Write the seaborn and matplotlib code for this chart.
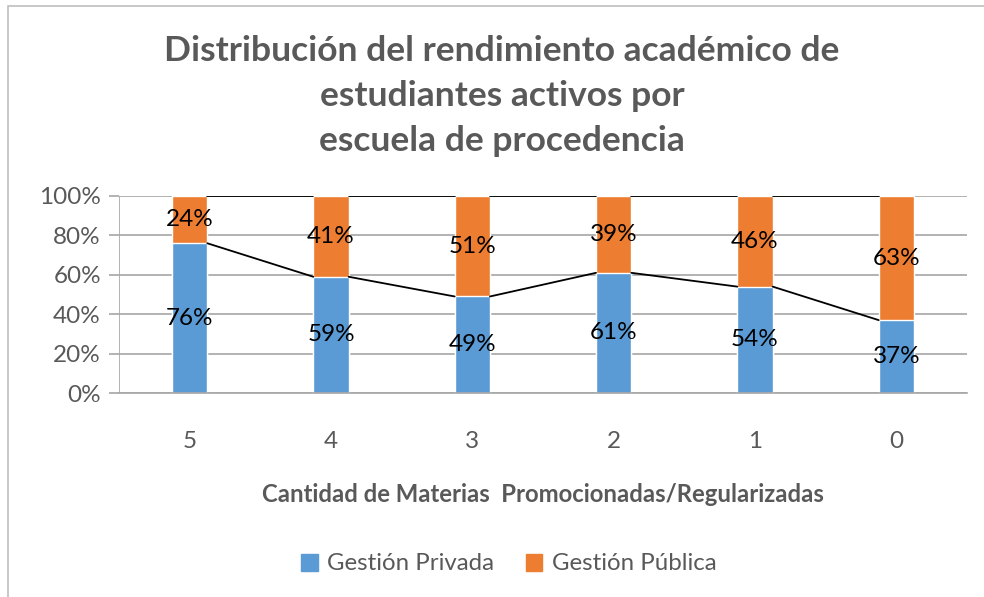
import numpy as np
import seaborn as sns
import matplotlib.pyplot as plt
from matplotlib.patches import Rectangle, Patch

categorias = ["5", "4", "3", "2", "1", "0"]
privada = [76, 59, 49, 61, 54, 37]
publica = [24, 41, 51, 39, 46, 63]

azul = "#5B9BD5"
naranja = "#ED7D31"
gris = "#595959"

sns.set_style("white")
plt.rcParams["font.family"] = ["Lato", "DejaVu Sans"]

fig = plt.figure(figsize=(9.84, 5.97), dpi=100)
ax = fig.add_axes([119 / 984, 1 - 393 / 597, (967 - 119) / 984, (393 - 196) / 597])

total = [a + b for a, b in zip(privada, publica)]
ancho = 0.25
sns.barplot(x=categorias, y=total, color=naranja, width=ancho, ax=ax, saturation=1)
sns.barplot(x=categorias, y=privada, color=azul, width=ancho, ax=ax, saturation=1)

# series lines between bars
for i in range(len(categorias) - 1):
    ax.plot([i + ancho / 2, i + 1 - ancho / 2], [privada[i], privada[i + 1]],
            color="black", lw=1.3, zorder=3)
    ax.plot([i + ancho / 2, i + 1 - ancho / 2], [total[i], total[i + 1]],
            color="black", lw=1.3, zorder=3)

# etiquetas
for i in range(len(categorias)):
    ax.text(i, privada[i] / 2, f"{privada[i]}%", ha="center", va="center",
            fontsize=17.5, color="black", zorder=4)
    ax.text(i, privada[i] + publica[i] / 2, f"{publica[i]}%", ha="center",
            va="center", fontsize=17.5, color="black", zorder=4)

ax.set_xlim(-0.5, len(categorias) - 0.5)
ax.set_ylim(0, 100)
ax.set_yticks(np.arange(0, 101, 20))
ax.set_yticklabels([f"{v}%" for v in range(0, 101, 20)])
ax.yaxis.grid(True, color="#A6A6A6", lw=1.2)
ax.set_axisbelow(True)
for s in ["top", "right", "left"]:
    ax.spines[s].set_visible(False)
ax.spines["bottom"].set_color("#A6A6A6")
ax.spines["bottom"].set_linewidth(1.2)
ax.axvline(-0.5, color="#A6A6A6", lw=1.2, zorder=0)
ax.tick_params(axis="y", labelsize=17.5, labelcolor=gris, length=7, color="#A6A6A6",
               width=1.2, left=True, pad=6)
ax.tick_params(axis="x", labelsize=17.5, labelcolor=gris, length=0, pad=27)
ax.set_xlabel("Cantidad de Materias  Promocionadas/Regularizadas", fontsize=17.2,
              fontweight="bold", color=gris, labelpad=23)
ax.set_ylabel("")

fig.text(0.51, 1 - 96 / 597,
         "Distribución del rendimiento académico de\nestudiantes activos por\nescuela de procedencia",
         ha="center", va="center", fontsize=25.5, fontweight="bold", color=gris,
         linespacing=1.5)

handles = [Patch(color=azul), Patch(color=naranja)]
fig.legend(handles, ["Gestión Privada", "Gestión Pública"], loc="center",
           bbox_to_anchor=(0.517, 1 - 564 / 597), ncol=2, frameon=False,
           fontsize=17.3, labelcolor=gris, handlelength=0.7, handleheight=0.7,
           columnspacing=1.3, handletextpad=0.4)

fig.patches.append(Rectangle((8 / 984, -0.01), 1.0, 1.0, transform=fig.transFigure,
                             fill=False, edgecolor="#BFBFBF", lw=1.2))

fig.savefig("out.png", dpi=100)
